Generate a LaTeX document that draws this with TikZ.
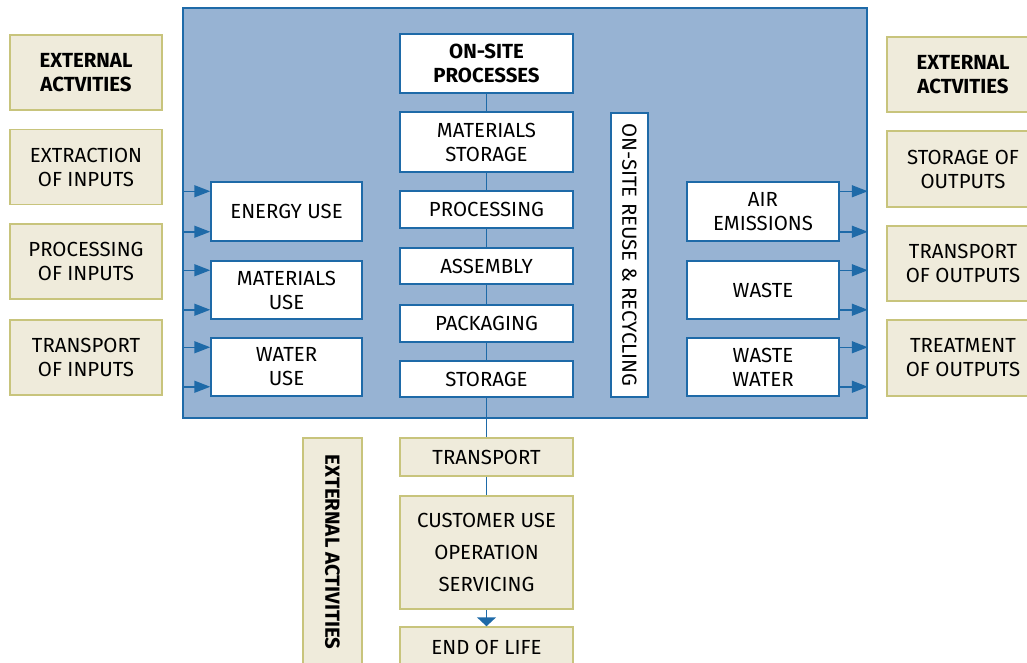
\documentclass[tikz,border=0pt]{standalone}
\usepackage{fontspec}
\setmainfont{Fira Sans}
\usepackage{xcolor}
\usetikzlibrary{arrows.meta, positioning}
\definecolor{sitefill}{HTML}{97B3D3}
\definecolor{siteblue}{HTML}{1E6AA8}
\definecolor{tanfill}{HTML}{EFEBDB}
\definecolor{tanline}{HTML}{C8C47C}
\newcommand{\boxfont}{\fontsize{20.4}{24}\selectfont}
\begin{document}
\begin{tikzpicture}[x=1pt, y=1pt,
	box/.style={rectangle, line width=1.5pt, align=center, inner sep=2pt, font=\boxfont},
	tanbox/.style={box, draw=tanline, fill=tanfill},
	whitebox/.style={box, draw=siteblue, fill=white},
	flow/.style={line width=1.5pt, siteblue, -{Triangle[length=16pt, width=12pt]}},
	link/.style={line width=1.5pt, siteblue}]
	\useasboundingbox (0,0) rectangle (1027,-662);
	\node[draw=siteblue, fill=sitefill, line width=1.5pt, minimum width=684, minimum height=410] (site) at (525,-213) {};
	% external activities on the left
	\node[tanbox, minimum width=152, minimum height=75, font=\boxfont\bfseries] (extl) at (86,-72.5) {EXTERNAL\\ACTVITIES};
	\node[tanbox, minimum width=152, minimum height=75] (extract) at (86,-167) {EXTRACTION\\OF INPUTS};
	\node[tanbox, minimum width=152, minimum height=75] (procin) at (86,-261.5) {PROCESSING\\OF INPUTS};
	\node[tanbox, minimum width=152, minimum height=75] (transin) at (86,-357.5) {TRANSPORT\\OF INPUTS};
	% inputs
	\node[whitebox, minimum width=151, minimum height=59] (energy) at (286.5,-211.5) {ENERGY USE};
	\node[whitebox, minimum width=151, minimum height=58] (matuse) at (286.5,-290) {MATERIALS\\USE};
	\node[whitebox, minimum width=151, minimum height=58] (water) at (286.5,-367) {WATER\\USE};
	% on-site processes
	\node[whitebox, minimum width=173, minimum height=59, font=\boxfont\bfseries] (onsite) at (486.5,-63.5) {ON-SITE\\PROCESSES};
	\node[whitebox, minimum width=173, minimum height=60] (matstore) at (486.5,-142) {MATERIALS\\STORAGE};
	\node[whitebox, minimum width=173, minimum height=37] (proc) at (486.5,-209.5) {PROCESSING};
	\node[whitebox, minimum width=173, minimum height=36] (assem) at (486.5,-266) {ASSEMBLY};
	\node[whitebox, minimum width=173, minimum height=37] (pack) at (486.5,-323.5) {PACKAGING};
	\node[whitebox, minimum width=173, minimum height=36] (store) at (486.5,-379) {STORAGE};
	\node[whitebox, rotate=-90, minimum width=284, minimum height=37] (reuse) at (629.5,-255) {ON-SITE REUSE \& RECYCLING};
	% outputs
	\node[whitebox, minimum width=152, minimum height=59] (air) at (763,-211.5) {AIR\\EMISSIONS};
	\node[whitebox, minimum width=152, minimum height=58] (waste) at (763,-290) {WASTE};
	\node[whitebox, minimum width=152, minimum height=58] (wwater) at (763,-367) {WASTE\\WATER};
	% external activities on the right
	\node[tanbox, minimum width=152, minimum height=75, font=\boxfont\bfseries] (extr) at (963,-74.5) {EXTERNAL\\ACTVITIES};
	\node[tanbox, minimum width=152, minimum height=76] (storeout) at (963,-169) {STORAGE OF\\OUTPUTS};
	\node[tanbox, minimum width=152, minimum height=75] (transout) at (963,-263.5) {TRANSPORT\\OF OUTPUTS};
	\node[tanbox, minimum width=152, minimum height=76] (treatout) at (963,-358) {TREATMENT\\OF OUTPUTS};
	% below the site
	\node[tanbox, minimum width=173, minimum height=38] (transport) at (486.5,-457) {TRANSPORT};
	\node[tanbox, minimum width=173, minimum height=113] (customer) at (486.5,-552.5) {CUSTOMER USE\\[8pt]OPERATION\\[8pt]SERVICING};
	\node[tanbox, minimum width=173, minimum height=40] (endlife) at (486.5,-647) {END OF LIFE};
	\node[tanbox, rotate=-90, minimum width=228, minimum height=59, font=\boxfont\bfseries] (extb) at (332.5,-552) {EXTERNAL ACTIVITIES};
	% connectors
	\foreach \a/\b in {onsite/matstore, matstore/proc, proc/assem, assem/pack, pack/store, store/transport, transport/customer}
		\draw[link] (\a) -- (\b);
	\draw[link, -{Triangle[length=9pt, width=19pt]}] (customer) -- (endlife);
	\foreach \b in {energy, matuse, water} {
		\draw[flow] ([yshift=-10pt]\b.north west -| site.west) -- ([yshift=-10pt]\b.north west);
		\draw[flow] ([yshift=10pt]\b.south west -| site.west) -- ([yshift=10pt]\b.south west);
	}
	\foreach \b in {air, waste, wwater} {
		\draw[flow] ([yshift=-10pt]\b.north east) -- ([yshift=-10pt]\b.north east -| site.east);
		\draw[flow] ([yshift=10pt]\b.south east) -- ([yshift=10pt]\b.south east -| site.east);
	}
\end{tikzpicture}
\end{document}
